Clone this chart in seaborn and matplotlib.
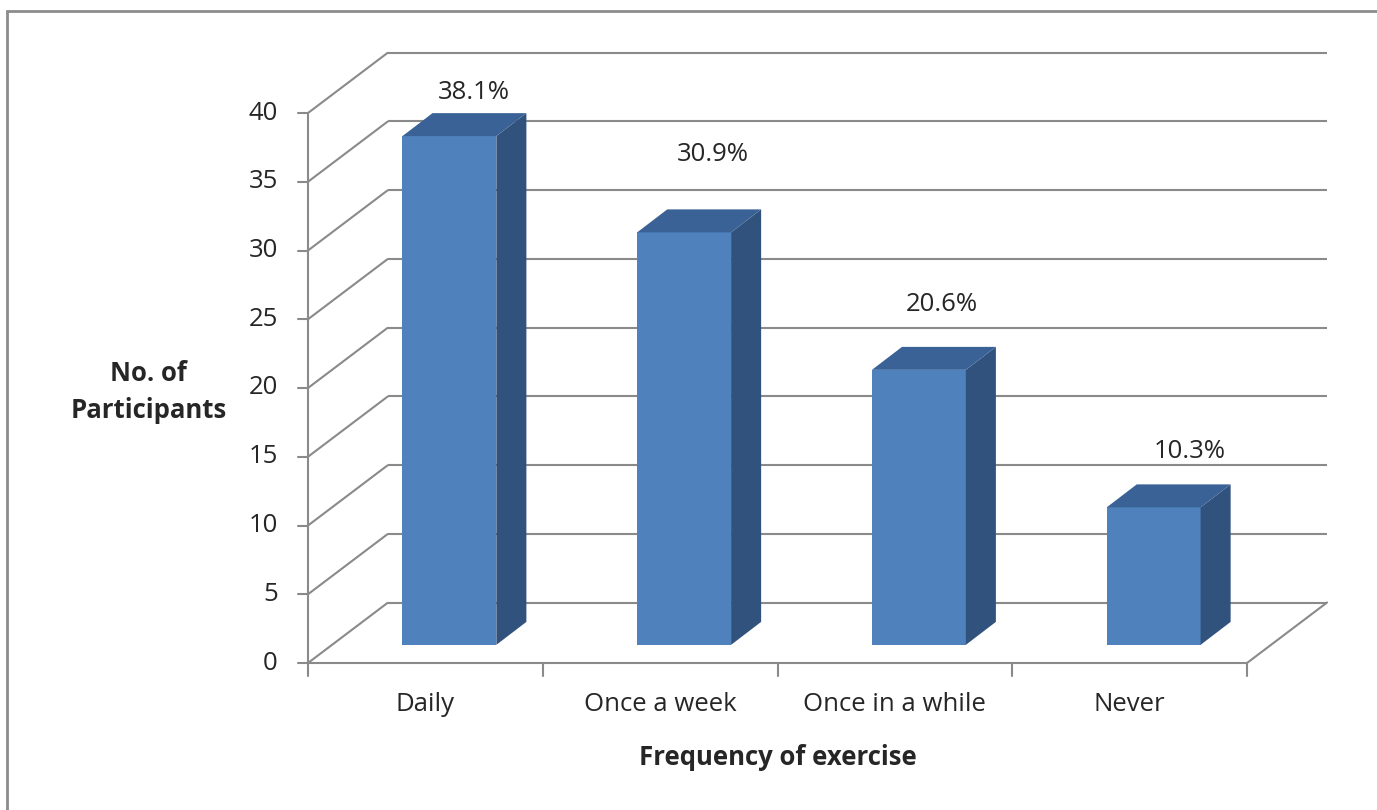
import matplotlib
matplotlib.use("Agg")
import matplotlib.pyplot as plt
from matplotlib.transforms import Affine2D
from matplotlib.patches import Rectangle
import seaborn as sns
import pandas as pd

# ---- data ----
categories = ["Daily", "Once a week", "Once in a while", "Never"]
participants = [37, 30, 20, 10]
y_ticks = [0, 5, 10, 15, 20, 25, 30, 35, 40]

# ---- layout / style ----
FRONT = "#4F81BD"
SIDE = "#30527D"
TOP = "#3A6296"
GRID = "#8A8A8A"
TEXT = "#262626"
FONT = ["Open Sans", "DejaVu Sans"]
FS = 18.5

W, H = 1377, 810
DX, DY = 0.341, 4.40          # depth of the floor, in axis units
SX, SY = 0.30 * DX, 0.30 * DY  # where the bar fronts sit in depth
BDX, BDY = 0.128, 1.67        # depth of each bar
BAR_W = 0.40
label_dx = [0.207, 0.225, 0.199, 0.257]
label_lift = [4.5, 6.95, 6.05, 5.35]

sns.set_theme(style="white")
plt.rcParams["font.family"] = FONT

fig = plt.figure(figsize=(W / 100, H / 100), dpi=100)
ax = fig.add_axes([0, 0, 1, 1])

df = pd.DataFrame({"freq": categories, "n": participants})
sns.barplot(data=df, x="freq", y="n", color=FRONT, width=BAR_W,
            saturation=1, ax=ax, zorder=3, linewidth=0)

# push the front faces back into the box
shift = Affine2D().translate(SX, SY) + ax.transData
for p in ax.patches:
    p.set_transform(shift)

# side and top faces of each bar
for i, v in enumerate(participants):
    x0, x1 = i - BAR_W / 2 + SX, i + BAR_W / 2 + SX
    y0, y1 = SY, v + SY
    ax.fill([x1, x1 + BDX, x1 + BDX, x1], [y0, y0 + BDY, y1 + BDY, y1],
            color=SIDE, lw=0, zorder=3)
    ax.fill([x0, x1, x1 + BDX, x0 + BDX], [y1, y1, y1 + BDY, y1 + BDY],
            color=TOP, lw=0, zorder=3)

xl, xr = -0.5, len(categories) - 0.5
lw = 1.5
# walls: diagonal gridlines on the left wall, horizontal ones on the back wall
for t in y_ticks:
    ax.plot([xl, xl + DX], [t, t + DY], color=GRID, lw=lw, zorder=1,
            solid_capstyle="butt")
    ax.plot([xl + DX, xr + DX], [t + DY, t + DY], color=GRID, lw=lw, zorder=1,
            solid_capstyle="butt")
    # tick mark and label on the front value axis
    ax.plot([xl - 0.043, xl], [t, t], color=GRID, lw=lw, zorder=2)
    ax.text(xl - 0.128, t, str(t), ha="right", va="center",
            fontsize=FS, color=TEXT)

# floor edges and front axis
ax.plot([xl, xl], [0, y_ticks[-1]], color=GRID, lw=lw, zorder=2)
ax.plot([xl, xr], [0, 0], color=GRID, lw=lw, zorder=2)
ax.plot([xr, xr + DX], [0, DY], color=GRID, lw=lw, zorder=2)
for k in range(len(categories) + 1):
    xb = xl + k
    ax.plot([xb, xb], [0, -0.95], color=GRID, lw=lw, zorder=2)

# category labels and percentage labels
total = sum(participants)
for i, (c, v) in enumerate(zip(categories, participants)):
    ax.text(i, -3.05, c, ha="center", va="center", fontsize=FS, color=TEXT)
    ax.text(i + label_dx[i], v + label_lift[i], f"{v / total * 100:.1f}%",
            ha="center", va="center", fontsize=FS, color=TEXT)

ax.text(1.5, -6.84, "Frequency of exercise", ha="center", va="center",
        fontsize=FS, fontweight="bold", color=TEXT)
ax.text(-1.18, 19.7, "No. of\nParticipants", ha="center", va="center",
        fontsize=FS, fontweight="bold", color=TEXT, linespacing=1.45)

ax.set_xlim(-0.5 - 308 / 234.75, -0.5 + (W - 308) / 234.75)
ax.set_ylim((663 - H) / 13.75, 663 / 13.75)
ax.set_axis_off()

# chart area frame
fig.patches.append(Rectangle((7 / W, -0.05), 1.1, 1 - 11 / H + 0.05,
                             transform=fig.transFigure, fill=False,
                             edgecolor="#8C8C8C", lw=2))

fig.savefig("out.png", dpi=100, facecolor="white")
